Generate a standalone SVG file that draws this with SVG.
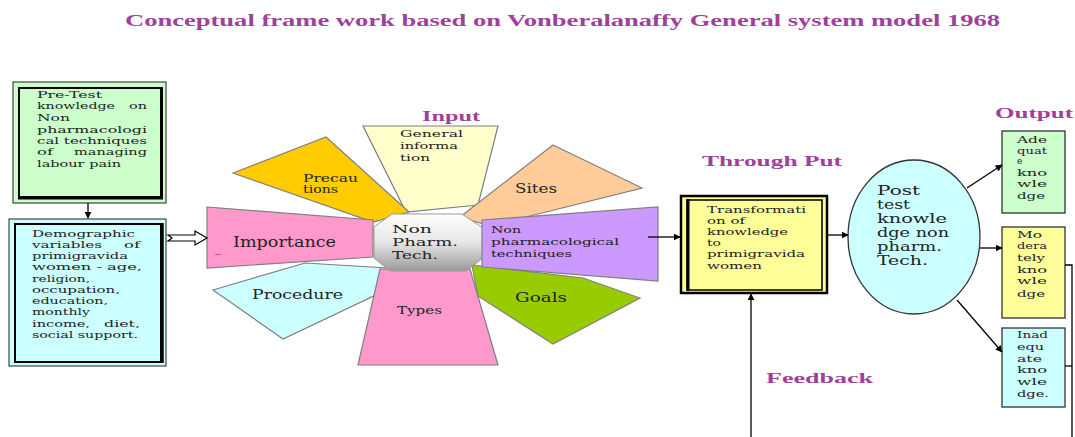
<svg xmlns="http://www.w3.org/2000/svg" width="1075" height="437" viewBox="0 0 1075 437">
<style>
.h{font-family:"Liberation Serif",serif;font-weight:bold;fill:#A03F9C}
.t{font-family:"DejaVu Serif","Liberation Serif",serif;fill:#222}
.petal{stroke:#7f7f7f;stroke-width:1.2}
.ln{stroke:#000;stroke-width:1.3;fill:none}
.ob{stroke:#333;stroke-width:1.3}
</style>
<defs>
<marker id="ah" viewBox="0 0 10 10" refX="9" refY="5" markerWidth="7" markerHeight="7" orient="auto" markerUnits="userSpaceOnUse"><path d="M0,0L10,5L0,10z" fill="#000"/></marker>
<linearGradient id="oct" x1="0" y1="0" x2="0" y2="1"><stop offset="0" stop-color="#ffffff"/><stop offset="0.5" stop-color="#e6e6e6"/><stop offset="1" stop-color="#9a9a9a"/></linearGradient>
</defs>
<rect width="1075" height="437" fill="#fff"/>
<text class="h" x="125" y="26" font-size="17" textLength="875" lengthAdjust="spacingAndGlyphs">Conceptual frame work based on Vonberalanaffy General system model 1968</text>

<g id="pretest">
<rect x="13" y="82" width="153" height="121" fill="#CCFFCC" stroke="#444" stroke-width="1.2"/>
<rect x="19" y="88" width="142" height="109" fill="#CCFFCC" stroke="#000" stroke-width="2"/>
<line x1="162" y1="87" x2="162" y2="199" stroke="#000" stroke-width="2"/>
<line x1="18" y1="198.5" x2="163" y2="198.5" stroke="#000" stroke-width="2"/>
<g class="t" font-size="10">
<text x="37" y="98" textLength="65" lengthAdjust="spacingAndGlyphs">Pre-Test</text>
<text x="37" y="109" textLength="78" lengthAdjust="spacingAndGlyphs">knowledge</text>
<text x="147" y="109" text-anchor="end" textLength="18" lengthAdjust="spacingAndGlyphs">on</text>
<text x="37" y="121" textLength="33" lengthAdjust="spacingAndGlyphs">Non</text>
<text x="37" y="133" textLength="110" lengthAdjust="spacingAndGlyphs">pharmacologi</text>
<text x="37" y="144" textLength="110" lengthAdjust="spacingAndGlyphs">cal techniques</text>
<text x="37" y="155" textLength="16" lengthAdjust="spacingAndGlyphs">of</text>
<text x="147" y="155" text-anchor="end" textLength="73" lengthAdjust="spacingAndGlyphs">managing</text>
<text x="37" y="167" textLength="84" lengthAdjust="spacingAndGlyphs">labour pain</text>
</g>
</g>

<g id="demographic">
<rect x="9" y="219" width="157" height="147" fill="#CCFFFF" stroke="#444" stroke-width="1.2"/>
<rect x="15" y="224" width="146" height="138" fill="#CCFFFF" stroke="#000" stroke-width="2"/>
<line x1="162.5" y1="223" x2="162.5" y2="363" stroke="#000" stroke-width="2.5"/>
<g class="t" font-size="10">
<text x="32" y="237" textLength="103" lengthAdjust="spacingAndGlyphs">Demographic</text>
<text x="32" y="248" textLength="70" lengthAdjust="spacingAndGlyphs">variables</text>
<text x="140" y="248" text-anchor="end" textLength="16" lengthAdjust="spacingAndGlyphs">of</text>
<text x="32" y="259" textLength="96" lengthAdjust="spacingAndGlyphs">primigravida</text>
<text x="32" y="270" textLength="110" lengthAdjust="spacingAndGlyphs">women - age,</text>
<text x="32" y="282" textLength="58" lengthAdjust="spacingAndGlyphs">religion,</text>
<text x="32" y="293" textLength="88" lengthAdjust="spacingAndGlyphs">occupation,</text>
<text x="32" y="304" textLength="76" lengthAdjust="spacingAndGlyphs">education,</text>
<text x="32" y="315" textLength="58" lengthAdjust="spacingAndGlyphs">monthly</text>
<text x="32" y="327" textLength="58" lengthAdjust="spacingAndGlyphs">income,</text>
<text x="140" y="327" text-anchor="end" textLength="36" lengthAdjust="spacingAndGlyphs">diet,</text>
<text x="32" y="338" textLength="106" lengthAdjust="spacingAndGlyphs">social support.</text>
</g>
</g>

<g id="petal-general"><polygon class="petal" points="363,126 498,126 478,205 406,212" fill="#FFFFCC"/>
<g class="t" font-size="10"><text x="400" y="137" textLength="63" lengthAdjust="spacingAndGlyphs">General</text><text x="400" y="149" textLength="58" lengthAdjust="spacingAndGlyphs">informa</text><text x="400" y="161" textLength="30" lengthAdjust="spacingAndGlyphs">tion</text></g></g>

<g id="petal-precautions"><polygon class="petal" points="233,173 326,137 409,212 373,222" fill="#FFCC00"/>
<g class="t" font-size="10.5"><text x="303" y="182" textLength="55" lengthAdjust="spacingAndGlyphs">Precau</text><text x="303" y="193" textLength="35" lengthAdjust="spacingAndGlyphs">tions</text></g></g>

<g id="petal-sites"><polygon class="petal" points="553,145 642,188 490,226 460,217" fill="#FFCC99"/>
<text class="t" font-size="12" x="515" y="193" textLength="42" lengthAdjust="spacingAndGlyphs">Sites</text></g>

<g id="petal-procedure"><polygon class="petal" points="213,290 305,263 387,268 382,292 283,339" fill="#CCFFFF"/>
<text class="t" font-size="13" x="252" y="299" textLength="91" lengthAdjust="spacingAndGlyphs">Procedure</text></g>

<g id="petal-importance"><polygon class="petal" points="207,207 373,220 373,257 207,268" fill="#FF99CC"/>
<text class="t" font-size="14" x="233" y="247" textLength="103" lengthAdjust="spacingAndGlyphs">Importance</text>
<text class="t" font-size="11" x="215" y="252">_</text></g>

<g id="petal-goals"><polygon class="petal" points="472,265 583,278 640,298 553,344 478,296" fill="#99CC00"/>
<text class="t" font-size="13" x="515" y="302" textLength="52" lengthAdjust="spacingAndGlyphs">Goals</text></g>

<g id="petal-types"><polygon class="petal" points="380,269 470,269 498,365 358,365" fill="#FF99CC"/>
<text class="t" font-size="11" x="397" y="314" textLength="45" lengthAdjust="spacingAndGlyphs">Types</text></g>

<g id="center"><polygon points="392,214 462,214 483,228 483,258 466,271 390,271 374,258 374,227" fill="url(#oct)" stroke="#999" stroke-width="1"/>
<g class="t" font-size="11.5"><text x="392" y="233" textLength="40" lengthAdjust="spacingAndGlyphs">Non</text><text x="392" y="246" textLength="66" lengthAdjust="spacingAndGlyphs">Pharm.</text><text x="392" y="259" textLength="46" lengthAdjust="spacingAndGlyphs">Tech.</text></g></g>

<g id="petal-nonpharm"><polygon class="petal" points="482,220 658,207 658,281 482,267" fill="#CC99FF"/>
<g class="t" font-size="10"><text x="491" y="233" textLength="30" lengthAdjust="spacingAndGlyphs">Non</text><text x="491" y="245" textLength="128" lengthAdjust="spacingAndGlyphs">pharmacological</text><text x="491" y="257" textLength="81" lengthAdjust="spacingAndGlyphs">techniques</text></g></g>

<g id="labels">
<text class="h" x="422" y="121" font-size="15" textLength="58" lengthAdjust="spacingAndGlyphs">Input</text>
<text class="h" x="702" y="166" font-size="15" textLength="140" lengthAdjust="spacingAndGlyphs">Through Put</text>
<text class="h" x="995" y="118" font-size="15" textLength="78" lengthAdjust="spacingAndGlyphs">Output</text>
<text class="h" x="766" y="383" font-size="15" textLength="107" lengthAdjust="spacingAndGlyphs">Feedback</text>
</g>

<g id="transformation">
<rect x="681" y="196" width="146" height="97" fill="#FFFF99" stroke="#000" stroke-width="2.5"/>
<rect x="687" y="200" width="135" height="90" fill="#FFFF99" stroke="#000" stroke-width="1.5"/>
<line x1="688" y1="199" x2="688" y2="291" stroke="#000" stroke-width="3"/>
<g class="t" font-size="10">
<text x="707" y="213" textLength="99" lengthAdjust="spacingAndGlyphs">Transformati</text>
<text x="707" y="224" textLength="38" lengthAdjust="spacingAndGlyphs">on of</text>
<text x="707" y="235" textLength="81" lengthAdjust="spacingAndGlyphs">knowledge</text>
<text x="707" y="246" textLength="14" lengthAdjust="spacingAndGlyphs">to</text>
<text x="707" y="257" textLength="98" lengthAdjust="spacingAndGlyphs">primigravida</text>
<text x="707" y="269" textLength="55" lengthAdjust="spacingAndGlyphs">women</text>
</g>
</g>

<g id="posttest">
<ellipse cx="914" cy="237" rx="66" ry="77" fill="#CCFFFF" stroke="#333" stroke-width="1.3"/>
<g class="t" font-size="12">
<text x="877" y="195" textLength="43" lengthAdjust="spacingAndGlyphs">Post</text>
<text x="877" y="209" textLength="33" lengthAdjust="spacingAndGlyphs">test</text>
<text x="877" y="223" textLength="70" lengthAdjust="spacingAndGlyphs">knowle</text>
<text x="877" y="237" textLength="72" lengthAdjust="spacingAndGlyphs">dge non</text>
<text x="877" y="251" textLength="65" lengthAdjust="spacingAndGlyphs">pharm.</text>
<text x="877" y="265" textLength="51" lengthAdjust="spacingAndGlyphs">Tech.</text>
</g>
</g>

<g id="adequate">
<rect class="ob" x="1002" y="131" width="63" height="82" fill="#CCFFCC"/>
<g class="t" font-size="9">
<text x="1017" y="143" textLength="30" lengthAdjust="spacingAndGlyphs">Ade</text>
<text x="1017" y="154" textLength="30" lengthAdjust="spacingAndGlyphs">quat</text>
<text x="1017" y="164">e</text>
<text x="1017" y="176" textLength="30" lengthAdjust="spacingAndGlyphs">kno</text>
<text x="1017" y="187" textLength="30" lengthAdjust="spacingAndGlyphs">wle</text>
<text x="1017" y="199" textLength="28" lengthAdjust="spacingAndGlyphs">dge</text>
</g>
</g>

<g id="moderately">
<rect class="ob" x="1002" y="227" width="63" height="91" fill="#FFFF99"/>
<g class="t" font-size="9">
<text x="1017" y="238" textLength="25" lengthAdjust="spacingAndGlyphs">Mo</text>
<text x="1017" y="249" textLength="30" lengthAdjust="spacingAndGlyphs">dera</text>
<text x="1017" y="261" textLength="28" lengthAdjust="spacingAndGlyphs">tely</text>
<text x="1017" y="273" textLength="30" lengthAdjust="spacingAndGlyphs">kno</text>
<text x="1017" y="284" textLength="30" lengthAdjust="spacingAndGlyphs">wle</text>
<text x="1017" y="297" textLength="28" lengthAdjust="spacingAndGlyphs">dge</text>
</g>
</g>

<g id="inadequate">
<rect class="ob" x="1002" y="328" width="63" height="79" fill="#CCFFFF"/>
<g class="t" font-size="9">
<text x="1017" y="338" textLength="31" lengthAdjust="spacingAndGlyphs">Inad</text>
<text x="1017" y="350" textLength="27" lengthAdjust="spacingAndGlyphs">equ</text>
<text x="1017" y="362" textLength="25" lengthAdjust="spacingAndGlyphs">ate</text>
<text x="1017" y="373" textLength="30" lengthAdjust="spacingAndGlyphs">kno</text>
<text x="1017" y="385" textLength="30" lengthAdjust="spacingAndGlyphs">wle</text>
<text x="1017" y="397" textLength="32" lengthAdjust="spacingAndGlyphs">dge.</text>
</g>
</g>

<g id="connectors">
<line class="ln" x1="88" y1="203" x2="88" y2="218" marker-end="url(#ah)"/>
<polygon points="168,235 195,235 195,231 207,238 195,245 195,241 168,241 172,238" fill="#fff" stroke="#000" stroke-width="1.2"/>
<line class="ln" x1="648" y1="237" x2="680" y2="237" marker-end="url(#ah)"/>
<line class="ln" x1="827" y1="235" x2="848" y2="235" marker-end="url(#ah)"/>
<line class="ln" x1="967" y1="188" x2="1002" y2="165" marker-end="url(#ah)"/>
<line class="ln" x1="980" y1="248" x2="1002" y2="248" marker-end="url(#ah)"/>
<line class="ln" x1="957" y1="300" x2="1002" y2="352" marker-end="url(#ah)"/>
<polyline class="ln" points="1065,265 1072,265 1072,437"/>
<line class="ln" x1="1065" y1="366" x2="1072" y2="366"/>
<line class="ln" x1="751" y1="437" x2="751" y2="294" marker-end="url(#ah)"/>
</g>
</svg>
